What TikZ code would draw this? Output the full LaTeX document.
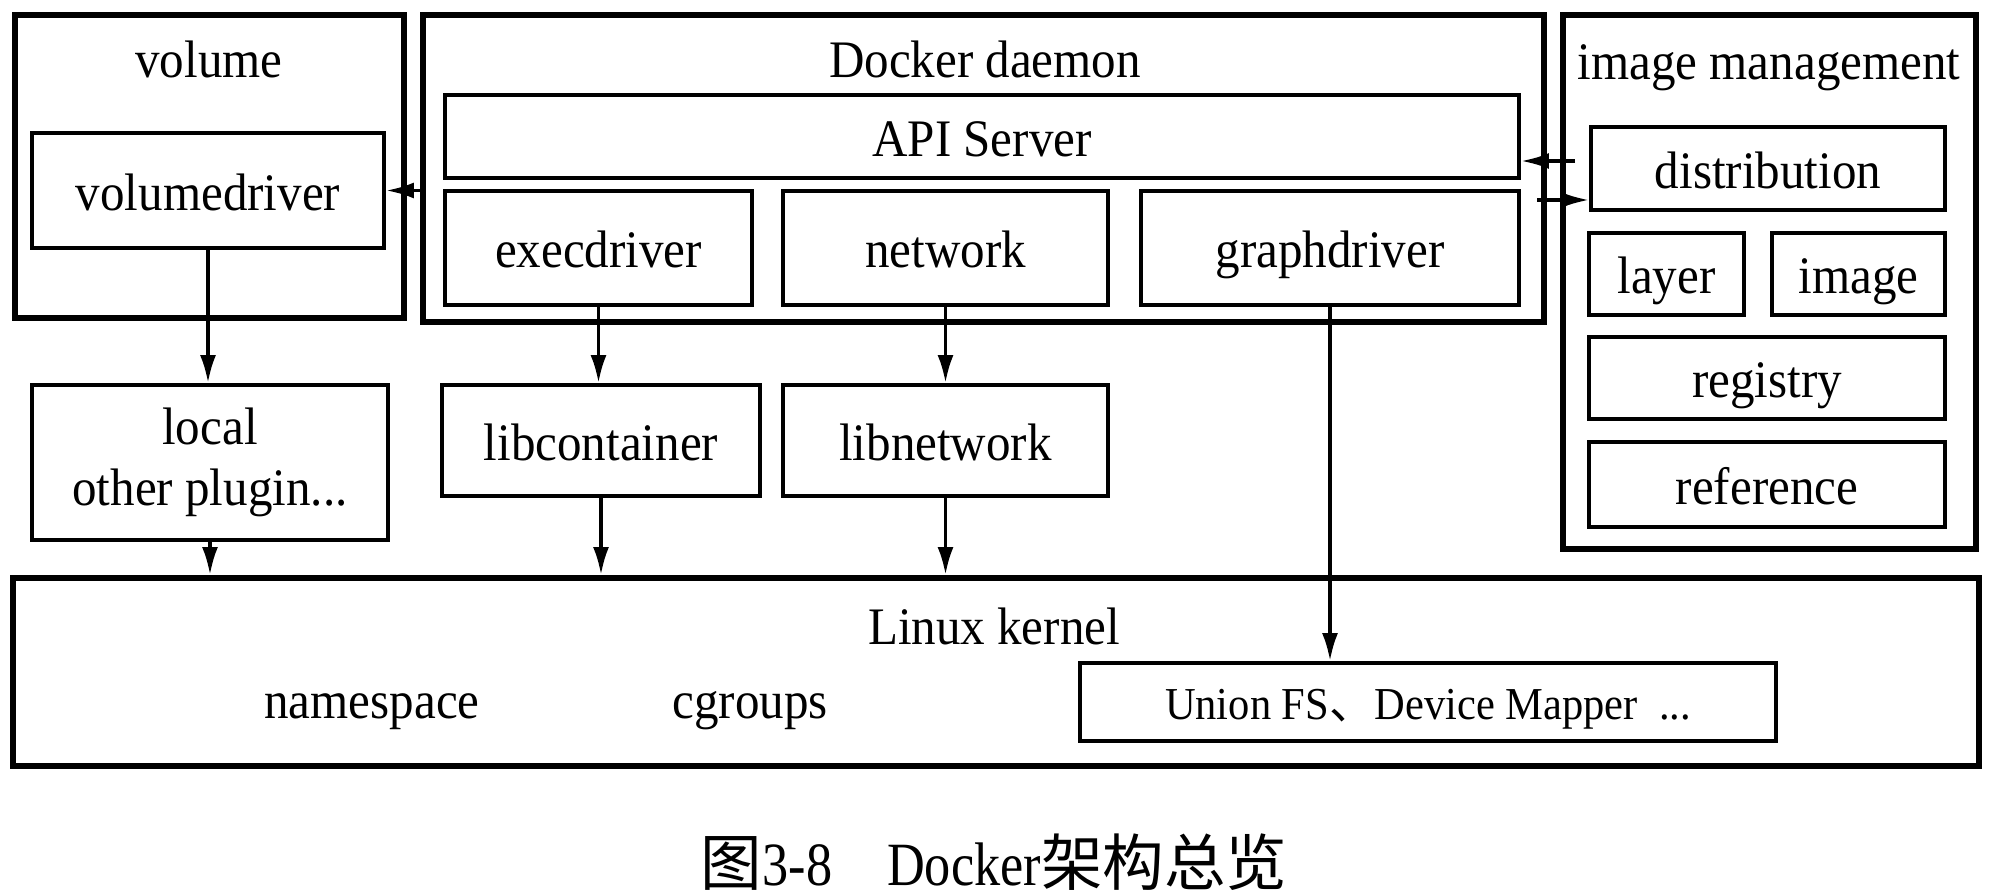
\documentclass[tikz,border=0pt]{standalone}
\usepackage{fontspec}
\setmainfont{Liberation Serif}[FakeStretch=0.93]
\newfontfamily\cjk{Noto Sans CJK SC}
\newfontfamily\capfont[FakeStretch=0.85]{Liberation Serif}
\usepackage{tikz}
\usetikzlibrary{arrows.meta}

\tikzset{
    outerbox/.style={draw, line width=1.7pt, inner sep=0pt},
    innerbox/.style={draw, line width=1.1pt, inner sep=0pt, align=center, font=\fontsize{15}{16.5}\selectfont},
    oneline/.style={text height=0.5cm, text depth=0.1cm},
    plaintext/.style={font=\fontsize{15}{16.5}\selectfont, text height=0.5cm, text depth=0.1cm},
    arr/.style={line width=1pt, -{Latex[length=2.8mm,width=1.6mm]}}
}

\begin{document}
\begin{tikzpicture}
    \useasboundingbox (0,0) rectangle (19.93,-8.96);

    % volume
    \node[outerbox, minimum width=3.89cm, minimum height=3.03cm] (volume) at (2.095,-1.665) {};
    \node[plaintext] (volumetitle) at (2.09,-0.58) {volume};
    \node[innerbox, oneline, minimum width=3.52cm, minimum height=1.15cm] (volumedriver) at (2.08,-1.905) {volumedriver};

    % Docker daemon
    \node[outerbox, minimum width=11.21cm, minimum height=3.07cm] (daemon) at (9.835,-1.685) {};
    \node[plaintext] (daemontitle) at (9.85,-0.58) {Docker daemon};
    \node[innerbox, oneline, minimum width=10.74cm, minimum height=0.83cm] (api) at (9.82,-1.365) {API Server};
    \node[innerbox, oneline, minimum width=3.07cm, minimum height=1.14cm] (execdriver) at (5.985,-2.48) {execdriver};
    \node[innerbox, oneline, minimum width=3.25cm, minimum height=1.14cm] (network) at (9.455,-2.48) {network};
    \node[innerbox, oneline, minimum width=3.78cm, minimum height=1.14cm] (graphdriver) at (13.30,-2.48) {graphdriver};

    % image management
    \node[outerbox, minimum width=4.13cm, minimum height=5.34cm] (imgmgmt) at (17.695,-2.82) {};
    \node[plaintext] (imgtitle) at (17.69,-0.60) {image management};
    \node[innerbox, oneline, minimum width=3.54cm, minimum height=0.83cm] (distribution) at (17.68,-1.685) {distribution};
    \node[innerbox, oneline, minimum width=1.55cm, minimum height=0.82cm] (layer) at (16.665,-2.74) {layer};
    \node[innerbox, oneline, minimum width=1.73cm, minimum height=0.82cm] (image) at (18.585,-2.74) {image};
    \node[innerbox, oneline, minimum width=3.56cm, minimum height=0.82cm] (registry) at (17.67,-3.78) {registry};
    \node[innerbox, oneline, minimum width=3.56cm, minimum height=0.85cm] (reference) at (17.67,-4.845) {reference};

    % drivers below
    \node[innerbox, minimum width=3.56cm, minimum height=1.55cm] (local) at (2.10,-4.625) {local\\[1pt]other plugin...};
    \node[innerbox, oneline, minimum width=3.18cm, minimum height=1.11cm] (libcontainer) at (6.01,-4.405) {libcontainer};
    \node[innerbox, oneline, minimum width=3.25cm, minimum height=1.11cm] (libnetwork) at (9.455,-4.405) {libnetwork};

    % Linux kernel
    \node[outerbox, minimum width=19.66cm, minimum height=1.88cm] (kernel) at (9.96,-6.72) {};
    \node[plaintext] (kerneltitle) at (9.94,-6.24) {Linux kernel};
    \node[plaintext] (namespace) at (3.72,-6.98) {namespace};
    \node[plaintext] (cgroups) at (7.50,-6.98) {cgroups};
    \node[innerbox, font=\fontsize{13}{15}\selectfont, text height=0.45cm, text depth=0.1cm, minimum width=6.96cm, minimum height=0.78cm] (unionfs) at (14.28,-7.02) {Union FS{\cjk 、}Device Mapper\ \ ...};

    % arrows
    \draw[arr] (volumedriver.south) -- (volumedriver.south |- local.north);
    \draw[arr] (local.south) -- (local.south |- kernel.north);
    \draw[arr] (execdriver.south) -- (execdriver.south |- libcontainer.north);
    \draw[arr] (libcontainer.south) -- (libcontainer.south |- kernel.north);
    \draw[arr] (network.south) -- (libnetwork.north);
    \draw[arr] (libnetwork.south) -- (libnetwork.south |- kernel.north);
    \draw[arr] (graphdriver.south) -- (graphdriver.south |- unionfs.north);
    \draw[arr] (daemon.west |- volumedriver.east) -- (volumedriver.east);
    \coordinate (distin) at (15.75,-1.61);
    \draw[arr] (distin) -- (distin -| api.east);
    \coordinate (distout) at (15.37,-2.00);
    \draw[arr] (distout) -- (distout -| distribution.west);

    % caption
    \node[font=\fontsize{17.5}{20}\selectfont] (caption) at (9.94,-8.62) {{\cjk 图}{\capfont 3-8}\hspace{0.55cm}{\capfont Docker}{\cjk 架构总览}};

\end{tikzpicture}
\end{document}
